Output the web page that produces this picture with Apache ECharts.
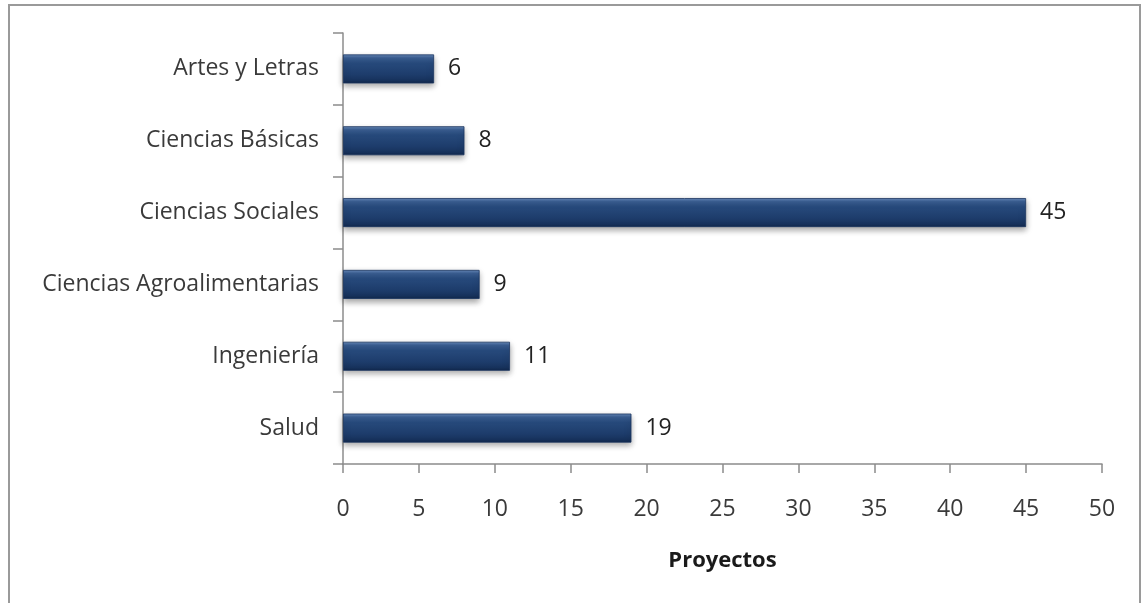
<!DOCTYPE html>
<html><head><meta charset="utf-8">
<script src="https://cdn.jsdelivr.net/npm/echarts@6/dist/echarts.min.js"></script>
<style>
html,body{margin:0;padding:0;background:#fff;}
#frame{position:absolute;left:8px;top:4px;width:1133px;height:620px;border:2px solid #9a9a9a;box-sizing:border-box;}
#chart{position:absolute;left:0;top:0;width:1144px;height:603px;}
</style></head>
<body>
<div id="frame"></div>
<div id="chart"></div>
<script>
const categories = ["Salud", "Ingeniería", "Ciencias Agroalimentarias", "Ciencias Sociales", "Ciencias Básicas", "Artes y Letras"];
const proyectos = [19, 11, 9, 45, 8, 6];
const xTicks = {min: 0, max: 50, interval: 5};
const axisTitle = "Proyectos";

const FONT = "Open Sans";
const chart = echarts.init(document.getElementById('chart'), null, {renderer: 'canvas'});
chart.setOption({
  animation: false,
  backgroundColor: 'transparent',
  grid: {left: 343, right: 42, top: 33, bottom: 139, containLabel: false},
  xAxis: {
    type: 'value', min: xTicks.min, max: xTicks.max, interval: xTicks.interval,
    name: axisTitle, nameLocation: 'middle', nameGap: 86,
    nameTextStyle: {fontFamily: FONT, fontWeight: 'bold', fontSize: 22, color: '#1a1a1a'},
    axisLine: {show: true, lineStyle: {color: '#8c8c8c', width: 1.5}},
    axisTick: {show: true, length: 9, lineStyle: {color: '#8c8c8c', width: 1.5}},
    axisLabel: {fontFamily: FONT, fontSize: 23, color: '#3a3a3a', margin: 34},
    splitLine: {show: false}
  },
  yAxis: {
    type: 'category', data: categories,
    axisLine: {show: true, lineStyle: {color: '#8c8c8c', width: 1.5}},
    axisTick: {show: true, length: 10, lineStyle: {color: '#8c8c8c', width: 1.5}},
    axisLabel: {fontFamily: FONT, fontSize: 23, color: '#3a3a3a', margin: 24, padding: [5, 0, 0, 0]}
  },
  series: [{
    type: 'bar', data: proyectos, barWidth: 29,
    itemStyle: {
      color: new echarts.graphic.LinearGradient(0, 0, 0, 1, [
        {offset: 0, color: '#6a8cbc'},
        {offset: 0.12, color: '#3a5e92'},
        {offset: 0.3, color: '#274a7c'},
        {offset: 0.7, color: '#1d3c6b'},
        {offset: 0.9, color: '#17325c'},
        {offset: 1, color: '#10264a'}
      ]),
      borderColor: '#1a3560', borderWidth: 0.8,
      shadowColor: 'rgba(0,0,0,0.35)', shadowBlur: 6, shadowOffsetY: 3
    },
    label: {show: true, position: 'right', distance: 14, fontFamily: FONT, fontSize: 23, color: '#222', padding: [4, 0, 0, 0]}
  }]
});
</script>
</body></html>
